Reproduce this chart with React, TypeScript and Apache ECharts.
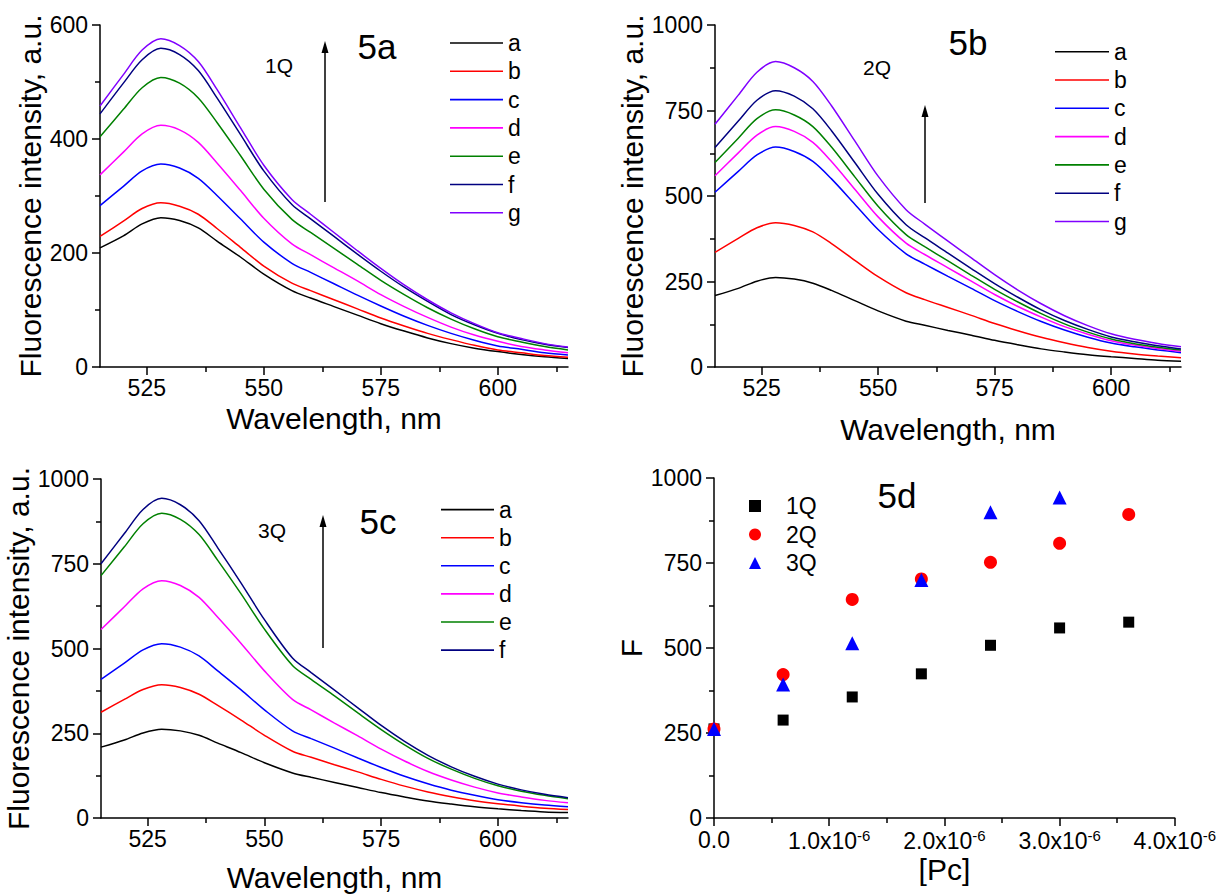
import React, { useEffect, useRef } from 'react';
import * as echarts from 'echarts';

const FONT = '"Liberation Sans", Arial, Helvetica, sans-serif';

// Wavelength grid (nm) shared by all spectra
const wavelengths = [515, 520, 524, 528, 532, 536, 540, 545, 550, 556, 560, 565, 570, 575, 580, 585, 590, 595, 600, 605, 610, 615];

const xTickValues = [525, 550, 575, 600];
const xMinorTickValues = [537.5, 562.5, 587.5, 612.5];

const curveNames7 = ['a', 'b', 'c', 'd', 'e', 'f', 'g'];
const curveNames6 = ['a', 'b', 'c', 'd', 'e', 'f'];
const curveColors = ['#000000', '#ff0000', '#0000ff', '#ff00ff', '#008000', '#000080', '#8000ff'];

// Panel 5a (1Q)
const a1_a = [209, 230, 251, 262, 257, 244, 221, 193, 163, 134, 121, 106, 91, 76, 63, 51, 41, 33, 27, 22, 18, 15];
const a1_b = [229, 256, 278, 288, 282, 268, 243, 210, 177, 147, 134, 118, 102, 86, 72, 59, 48, 38, 30, 25, 20, 17];
const a1_c = [283, 317, 344, 356, 349, 331, 301, 260, 219, 182, 166, 146, 126, 107, 89, 73, 59, 47, 37, 31, 25, 21];
const a1_d = [337, 377, 409, 424, 416, 394, 358, 310, 261, 216, 197, 174, 151, 127, 106, 87, 70, 56, 45, 36, 30, 25];
const a1_e = [404, 452, 490, 508, 498, 472, 429, 371, 312, 259, 236, 208, 180, 152, 127, 104, 84, 67, 53, 44, 36, 30];
const a1_f = [444, 498, 539, 559, 548, 520, 472, 408, 344, 285, 260, 229, 198, 168, 140, 115, 92, 74, 59, 48, 40, 34];
const a1_g = [458, 513, 556, 576, 564, 536, 487, 420, 354, 294, 268, 236, 204, 173, 144, 118, 95, 76, 60, 50, 41, 35];

// Panel 5b (2Q)
const b2_a = [209, 230, 251, 262, 257, 245, 224, 194, 164, 134, 122, 107, 93, 78, 65, 53, 44, 36, 30, 25, 20, 17];
const b2_b = [335, 376, 407, 422, 414, 395, 361, 312, 264, 217, 197, 174, 151, 127, 106, 87, 71, 57, 46, 38, 32, 27];
const b2_c = [511, 572, 620, 643, 630, 601, 550, 476, 402, 331, 301, 265, 230, 194, 162, 133, 108, 87, 70, 59, 50, 42];
const b2_d = [559, 626, 678, 703, 689, 657, 601, 520, 439, 362, 329, 290, 251, 212, 177, 146, 118, 96, 77, 64, 54, 46];
const b2_e = [598, 669, 726, 752, 737, 703, 643, 556, 470, 387, 352, 310, 268, 227, 190, 156, 126, 102, 82, 68, 58, 50];
const b2_f = [642, 719, 780, 808, 792, 755, 691, 598, 505, 416, 378, 333, 288, 244, 204, 167, 136, 110, 88, 74, 62, 53];
const b2_g = [710, 795, 862, 893, 875, 835, 764, 661, 558, 460, 418, 368, 319, 270, 225, 185, 150, 121, 97, 81, 69, 59];

// Panel 5c (3Q)
const c3_a = [209, 230, 251, 262, 257, 244, 221, 193, 163, 133, 120, 105, 90, 75, 62, 50, 41, 33, 27, 22, 18, 16];
const c3_b = [312, 350, 379, 393, 385, 365, 332, 289, 244, 197, 179, 157, 136, 114, 94, 77, 63, 51, 42, 35, 29, 25];
const c3_c = [409, 457, 496, 514, 504, 478, 434, 378, 319, 257, 234, 206, 177, 149, 123, 101, 82, 67, 54, 45, 38, 33];
const c3_d = [556, 623, 676, 700, 686, 651, 592, 515, 434, 350, 319, 280, 242, 203, 168, 137, 112, 91, 74, 62, 52, 45];
const c3_e = [715, 800, 868, 899, 881, 836, 760, 661, 557, 450, 409, 360, 310, 261, 216, 176, 144, 117, 95, 79, 67, 57];
const c3_f = [750, 839, 910, 943, 924, 877, 797, 693, 585, 472, 429, 377, 325, 273, 226, 185, 151, 123, 100, 83, 70, 60];

// Panel 5d: peak intensity F vs [Pc]
const pcConc = [0, 0.6e-6, 1.2e-6, 1.8e-6, 2.4e-6, 3.0e-6, 3.6e-6];
const f1Q = [262, 288, 356, 424, 508, 559, 576];
const f2Q = [262, 422, 643, 703, 752, 808, 893];
const f3Q = [262, 393, 514, 700, 899, 943];
const scatterNames = ['1Q', '2Q', '3Q'];

const panel1 = [a1_a, a1_b, a1_c, a1_d, a1_e, a1_f, a1_g];
const panel2 = [b2_a, b2_b, b2_c, b2_d, b2_e, b2_f, b2_g];
const panel3 = [c3_a, c3_b, c3_c, c3_d, c3_e, c3_f];

const axisColor = '#000';
const lineStyleAxis = { color: axisColor, width: 1.5 };

function spectrumX(gridIndex: number, nameGap: number) {
  return {
    type: 'value',
    gridIndex,
    position: 'bottom',
    min: 515,
    max: 615,
    axisLine: { show: true, lineStyle: lineStyleAxis },
    axisTick: { show: true, customValues: xTickValues, length: 8, lineStyle: lineStyleAxis },
    axisLabel: { show: true, customValues: xTickValues, fontSize: 23, color: '#000', fontFamily: FONT, margin: 9 },
    splitLine: { show: false },
    name: 'Wavelength, nm',
    nameLocation: 'middle',
    nameGap,
    nameTextStyle: { fontSize: 30, color: '#000', fontFamily: FONT },
  };
}

function spectrumXMinor(gridIndex: number) {
  return {
    type: 'value',
    gridIndex,
    position: 'bottom',
    min: 515,
    max: 615,
    axisLine: { show: false },
    axisTick: { show: true, customValues: xMinorTickValues, length: 5, lineStyle: lineStyleAxis },
    axisLabel: { show: false },
    splitLine: { show: false },
  };
}

function valueY(gridIndex: number, max: number, interval: number, name: string, nameGap: number) {
  return {
    type: 'value',
    gridIndex,
    min: 0,
    max,
    interval,
    axisLine: { show: true, lineStyle: lineStyleAxis },
    axisTick: { show: true, length: 8, lineStyle: lineStyleAxis },
    minorTick: { show: true, splitNumber: 2, length: 5, lineStyle: lineStyleAxis },
    minorSplitLine: { show: false },
    axisLabel: { fontSize: 23, color: '#000', fontFamily: FONT, margin: 12, formatter: (v: number) => String(v) },
    splitLine: { show: false },
    name,
    nameLocation: 'middle',
    nameGap,
    nameRotate: 90,
    nameTextStyle: { fontSize: 30, color: '#000', fontFamily: FONT },
  };
}

function spectrumSeries(panel: number[][], names: string[], axisIndex: number) {
  return panel.map((vals, i) => ({
    type: 'line',
    name: names[i],
    xAxisIndex: axisIndex,
    yAxisIndex: axisIndex,
    data: wavelengths.map((w, k) => [w, vals[k]]),
    symbol: 'none',
    smooth: 0.3,
    lineStyle: { width: 1.5, color: curveColors[i] },
    itemStyle: { color: curveColors[i] },
    z: 2 + i,
  }));
}

function lineLegend(names: string[], left: number, rowCenter: number, itemWidth: number, pitch: number) {
  return {
    orient: 'vertical',
    left,
    top: rowCenter - 11.5,
    padding: 0,
    icon: 'rect',
    itemWidth,
    itemHeight: 1.6,
    itemGap: pitch - 23,
    selectedMode: false,
    data: names,
    textStyle: { fontSize: 23, color: '#000', fontFamily: FONT },
  };
}

function arrow(x: number, yBottom: number, yTip: number) {
  return [
    { type: 'line', shape: { x1: x, y1: yBottom, x2: x, y2: yTip + 8 }, style: { stroke: '#000', lineWidth: 1.5 } },
    { type: 'polygon', shape: { points: [[x, yTip], [x - 3.5, yTip + 12], [x + 3.5, yTip + 12]] }, style: { fill: '#000' } },
  ];
}

function label(text: string, x: number, y: number, size: number) {
  return {
    type: 'text',
    x,
    y,
    style: { text, fill: '#000', fontSize: size, fontFamily: FONT, align: 'center', verticalAlign: 'middle' },
  };
}

export default function App() {
  const ref = useRef<HTMLDivElement>(null);

  useEffect(() => {
    if (!ref.current) return;
    const chart = echarts.init(ref.current, undefined, { renderer: 'svg' });

    const pcX = {
      type: 'value',
      gridIndex: 3,
      min: 0,
      max: 4e-6,
      interval: 1e-6,
      axisLine: { show: true, lineStyle: lineStyleAxis },
      axisTick: { show: true, length: 8, lineStyle: lineStyleAxis },
      minorTick: { show: true, splitNumber: 2, length: 5, lineStyle: lineStyleAxis },
      minorSplitLine: { show: false },
      splitLine: { show: false },
      axisLabel: {
        fontSize: 23,
        color: '#000',
        fontFamily: FONT,
        margin: 10,
        formatter: (v: number) => (v === 0 ? '0.0' : `{m|${(v * 1e6).toFixed(1)}x10}{s|-6}`),
        rich: {
          m: { fontSize: 23, color: '#000', fontFamily: FONT, lineHeight: 26 },
          s: { fontSize: 15, color: '#000', fontFamily: FONT, verticalAlign: 'top', lineHeight: 15 },
        },
      },
      name: '[Pc]',
      nameLocation: 'middle',
      nameGap: 36,
      nameTextStyle: { fontSize: 30, color: '#000', fontFamily: FONT },
    };

    const scatterCommon = { type: 'scatter', xAxisIndex: 3, yAxisIndex: 3, clip: false };

    const option: any = {
      animation: false,
      backgroundColor: '#ffffff',
      grid: [
        { left: 100, top: 25, width: 468, height: 342 },
        { left: 715, top: 25, width: 466, height: 342 },
        { left: 101, top: 479, width: 467, height: 339 },
        { left: 714, top: 478, width: 467, height: 340 },
      ],
      xAxis: [
        spectrumX(0, 36),
        spectrumX(1, 47),
        spectrumX(2, 44),
        pcX,
        spectrumXMinor(0),
        spectrumXMinor(1),
        spectrumXMinor(2),
      ],
      yAxis: [
        valueY(0, 600, 200, 'Fluorescence intensity, a.u.', 46),
        valueY(1, 1000, 250, 'Fluorescence intensity, a.u.', 51),
        valueY(2, 1000, 250, 'Fluorescence intensity, a.u.', 47),
        valueY(3, 1000, 250, 'F', 53),
      ],
      legend: [
        lineLegend(curveNames7, 450, 43, 53, 28.3),
        lineLegend(curveNames7, 1055, 51.7, 54, 28.3),
        lineLegend(curveNames6, 441, 509.6, 53, 28.1),
        {
          orient: 'vertical',
          left: 749,
          top: 506 - 11.5,
          padding: 0,
          itemWidth: 12,
          itemHeight: 12,
          itemGap: 28.5 - 23,
          selectedMode: false,
          data: scatterNames,
          textStyle: { fontSize: 23, color: '#000', fontFamily: FONT, padding: [0, 0, 0, 20] },
        },
      ],
      series: [
        ...spectrumSeries(panel1, curveNames7, 0),
        ...spectrumSeries(panel2, curveNames7, 1),
        ...spectrumSeries(panel3, curveNames6, 2),
        {
          ...scatterCommon,
          name: scatterNames[0],
          data: f1Q.map((v, i) => [pcConc[i], v]),
          symbol: 'rect',
          symbolSize: 11,
          itemStyle: { color: '#000000', opacity: 1 },
        },
        {
          ...scatterCommon,
          name: scatterNames[1],
          data: f2Q.map((v, i) => [pcConc[i], v]),
          symbol: 'circle',
          symbolSize: 13,
          itemStyle: { color: '#ff0000', opacity: 1 },
        },
        {
          ...scatterCommon,
          name: scatterNames[2],
          data: f3Q.map((v, i) => [pcConc[i], v]),
          symbol: 'triangle',
          symbolSize: 14,
          itemStyle: { color: '#0000ff', opacity: 1 },
        },
      ],
      graphic: [
        ...arrow(325, 202, 41),
        ...arrow(925, 203, 105),
        ...arrow(323, 648, 515),
        label('5a', 377, 46, 35),
        label('5b', 968, 42, 35),
        label('5c', 378, 521, 35),
        label('5d', 897, 495, 35),
        label('1Q', 279, 65, 21),
        label('2Q', 877, 67, 21),
        label('3Q', 272, 530, 21),
      ],
    };

    chart.setOption(option);
    return () => chart.dispose();
  }, []);

  return <div ref={ref} style={{ position: 'absolute', left: 0, top: 0, width: 1219, height: 894, background: '#fff' }} />;
}
